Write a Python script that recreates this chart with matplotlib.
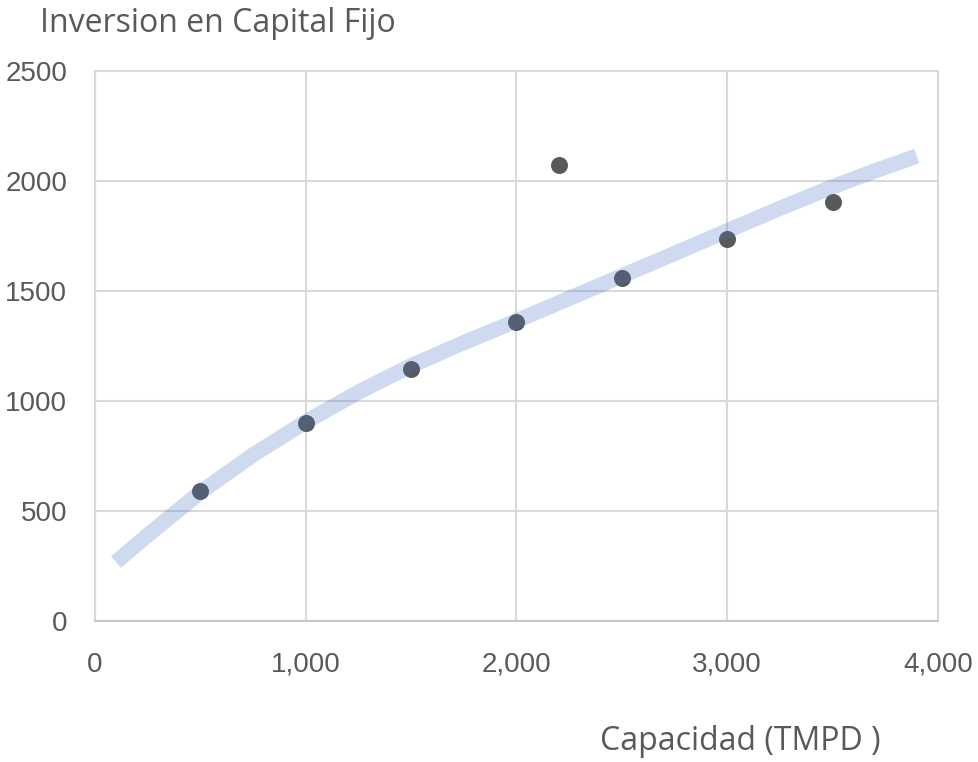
import matplotlib
matplotlib.use("Agg")
import matplotlib.pyplot as plt
from matplotlib.ticker import FuncFormatter

# plant capacity vs fixed capital investment
capacidad = [500, 1000, 1500, 2000, 2200, 2500, 3000, 3500]
inversion = [590, 900, 1145, 1360, 2070, 1557, 1736, 1902]

# trend curve values
trend_x = [100, 250, 500, 750, 1000, 1250, 1500, 1750, 2000,
           2250, 2500, 2750, 3000, 3250, 3500, 3700, 3900]
trend_y = [268, 390, 585, 755, 905, 1040, 1160, 1265, 1364,
           1466, 1568, 1670, 1773, 1875, 1973, 2045, 2113]

x_ticks = [0, 1000, 2000, 3000, 4000]
y_ticks = [0, 500, 1000, 1500, 2000, 2500]

TEXT_GRAY = "#595959"
GRID_GRAY = "#d9d9d9"
label_font = ["Open Sans", "DejaVu Sans"]
tick_font = ["Liberation Sans", "DejaVu Sans"]

fig = plt.figure(figsize=(9.79, 7.62), dpi=100)
ax = fig.add_axes([0.097, 0.185, 0.861, 0.722])

ax.scatter(capacidad, inversion, s=150, color="#595959", zorder=3, linewidths=0)
ax.plot(trend_x, trend_y, color="#4472C4", alpha=0.26, linewidth=11,
        solid_capstyle="butt", solid_joinstyle="round", zorder=4)

ax.set_xlim(0, 4000)
ax.set_ylim(0, 2500)
ax.set_xticks(x_ticks)
ax.set_yticks(y_ticks)
ax.xaxis.set_major_formatter(FuncFormatter(lambda v, _: f"{int(v):,}"))
ax.grid(True, color=GRID_GRAY, linewidth=1.5)
ax.set_axisbelow(True)
for side in ["left", "right", "top", "bottom"]:
    ax.spines[side].set_color(GRID_GRAY)
    ax.spines[side].set_linewidth(1.5)
ax.spines["bottom"].set_color("#c8c8c8")

ax.tick_params(axis="both", length=0, colors=TEXT_GRAY, labelsize=20)
ax.tick_params(axis="x", pad=22)
ax.tick_params(axis="y", pad=20)
for lab in ax.get_xticklabels() + ax.get_yticklabels():
    lab.set_family(tick_font)

fig.text(40 / 979, 1 - 23 / 762, "Inversion en Capital Fijo", fontsize=23,
         color=TEXT_GRAY, family=label_font, ha="left", va="center")
fig.text(740 / 979, 1 - 741 / 762, "Capacidad (TMPD )", fontsize=23,
         color=TEXT_GRAY, family=label_font, ha="center", va="center")

fig.savefig("out.png", dpi=100)
